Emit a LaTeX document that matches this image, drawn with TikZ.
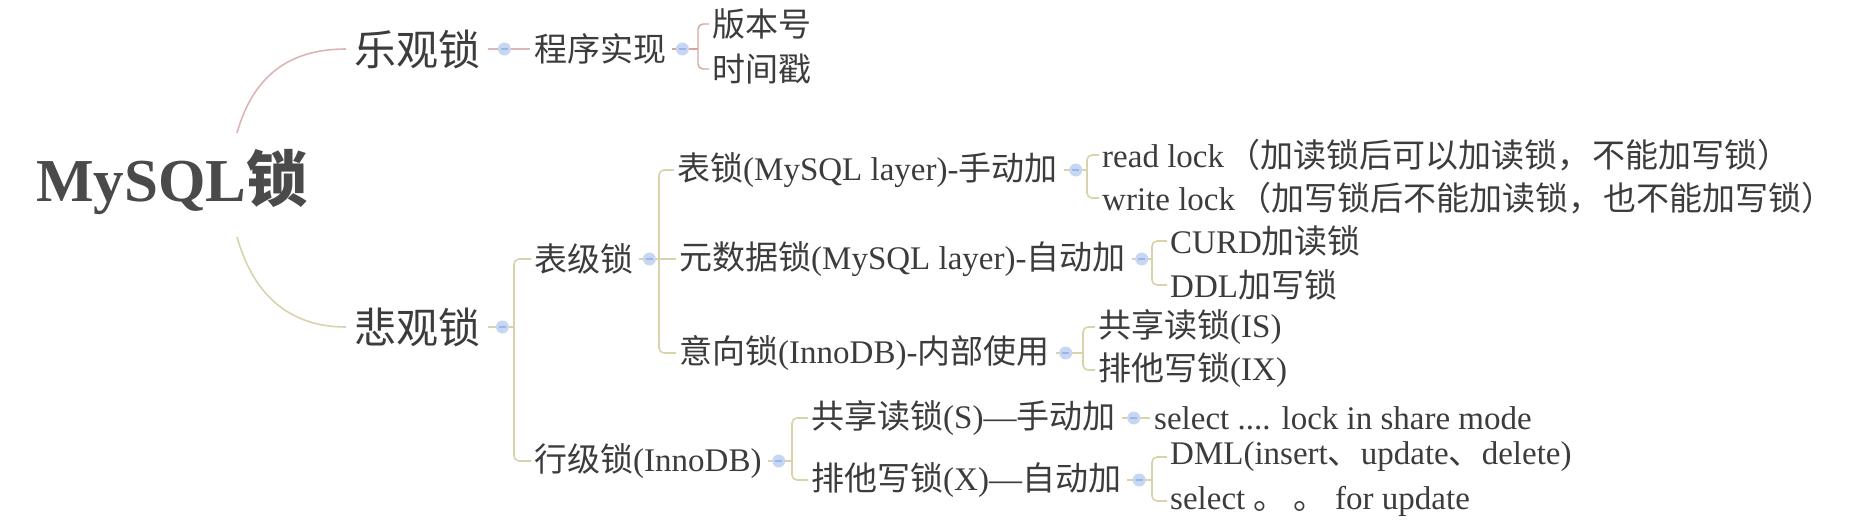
\documentclass[tikz,border=0pt]{standalone}
\usepackage{fontspec}
\setmainfont{Liberation Serif}
\newfontfamily\cjk{Noto Sans CJK SC}
\newcommand\zh[1]{{\cjk #1}}
\usetikzlibrary{calc}
\definecolor{txt}{HTML}{3C3C3C}
\definecolor{roottxt}{HTML}{4A4A4A}
\definecolor{pinkc}{HTML}{DDB5B5}
\definecolor{pinkb}{HTML}{D2A89E}
\definecolor{khakic}{HTML}{D8D3AA}
\definecolor{knobc}{HTML}{C6D7F3}
\definecolor{knobd}{HTML}{9DB5E0}
\begin{document}
\begin{tikzpicture}[x=1pt,y=-1pt,
  lbl/.style={anchor=west, inner sep=0pt, text=txt, font=\fontsize{33}{38}\selectfont},
  lvlone/.style={lbl, font=\fontsize{42}{48}\selectfont},
  rootlbl/.style={anchor=west, inner sep=0pt, text=roottxt, font=\fontsize{61}{66}\selectfont\bfseries},
  pinkline/.style={draw=pinkc, line width=1.6pt},
  pinkbr/.style={draw=pinkb, line width=1.4pt, rounded corners=5pt},
  khline/.style={draw=khakic, line width=1.6pt, rounded corners=5pt},
  knob/.style={circle, fill=knobc, minimum size=13pt, inner sep=0pt,
    path picture={\draw[knobd, line width=1.2pt]
      ([xshift=-3.5pt]path picture bounding box.center) -- ([xshift=3.5pt]path picture bounding box.center);}}
]
\useasboundingbox (0,0) rectangle (1862,522);
% ---------- text nodes ----------
\node[rootlbl] (root) at (36,182) {MySQL\zh{锁}};
\node[lvlone] (n1) at (354,49) {\zh{乐观锁}};
\node[lbl] (n11) at (534,49) {\zh{程序实现}};
\node[lbl] (n111) at (712,24) {\zh{版本号}};
\node[lbl] (n112) at (712,69) {\zh{时间戳}};
\node[lvlone] (n2) at (354,327) {\zh{悲观锁}};
\node[lbl] (n21) at (534,259) {\zh{表级锁}};
\node[lbl] (n211) at (677,170) {\zh{表锁}(MySQL layer)-\zh{手动加}};
\node[lbl] (n2111) at (1102,155) {read lock\hspace{3pt}\zh{（加读锁后可以加读锁，\hspace{2pt}不能加写锁）}};
\node[lbl] (n2112) at (1102,198) {write lock\hspace{3pt}\zh{（加写锁后不能加读锁，\hspace{2pt}也不能加写锁）}};
\node[lbl] (n212) at (679,259) {\zh{元数据锁}(MySQL layer)-\zh{自动加}};
\node[lbl] (n2121) at (1170,241) {CURD\zh{加读锁}};
\node[lbl] (n2122) at (1170,285) {DDL\zh{加写锁}};
\node[lbl] (n213) at (679,353) {\zh{意向锁}(InnoDB)-\zh{内部使用}};
\node[lbl] (n2131) at (1098,327) {\zh{共享读锁}(IS)};
\node[lbl] (n2132) at (1098,370) {\zh{排他写锁}(IX)};
\node[lbl] (n22) at (534,461) {\zh{行级锁}(InnoDB)};
\node[lbl] (n221) at (811,418) {\zh{共享读锁}(S)—\zh{手动加}};
\node[lbl] (n2211) at (1154,418) {select .... lock in share mode};
\node[lbl] (n222) at (811,480) {\zh{排他写锁}(X)—\zh{自动加}};
\node[lbl] (n2221) at (1170,457) {DML(insert\zh{、}update\zh{、}delete)};
\node[lbl] (n2222) at (1170,501) {select \zh{。 。} for update};
% ---------- bracket columns ----------
\coordinate (r1) at (237,133);
\coordinate (r2) at (237,237);
\coordinate (b11) at (698,0);
\coordinate (b2) at (514,0);
\coordinate (b21) at (659,0);
\coordinate (b211) at (1087,0);
\coordinate (b212) at (1152,0);
\coordinate (b213) at (1083,0);
\coordinate (b22) at (792,0);
\coordinate (b222) at (1152,0);
% ---------- root curves ----------
\draw[pinkline] (r1) .. controls (252,80) and (285,49) .. ($(n1.west)+(-8,0)$);
\draw[khline] (r2) .. controls (252,290) and (285,327) .. ($(n2.west)+(-8,0)$);
% ---------- optimistic branch ----------
\draw[pinkline] ($(n1.east)+(8,0)$) -- ($(n11.west)+(-4,0)$);
\draw[pinkbr] ($(n11.east)+(6,0)$) -- (n11.east -| b11);
\draw[pinkbr] ($(n111.west)+(-3,0)$) -- (n111.west -| b11) -- (n112.west -| b11) -- ($(n112.west)+(-3,0)$);
% ---------- pessimistic branch ----------
\draw[khline] ($(n2.east)+(8,0)$) -- (n2.east -| b2);
\draw[khline] ($(n21.west)+(-3,0)$) -- (n21.west -| b2) -- (n22.west -| b2) -- ($(n22.west)+(-3,0)$);
% table-level
\draw[khline] ($(n21.east)+(6,0)$) -- ($(n212.west)+(-3,0)$);
\draw[khline] ($(n211.west)+(-3,0)$) -- (n211.west -| b21) -- (n213.west -| b21) -- ($(n213.west)+(-3,0)$);
\draw[khline] ($(n211.east)+(6,0)$) -- (n211.east -| b211);
\draw[khline] ($(n2111.west)+(-3,0)$) -- (n2111.west -| b211) -- (n2112.west -| b211) -- ($(n2112.west)+(-3,0)$);
\draw[khline] ($(n212.east)+(6,0)$) -- (n212.east -| b212);
\draw[khline] ($(n2121.west)+(-3,0)$) -- (n2121.west -| b212) -- (n2122.west -| b212) -- ($(n2122.west)+(-3,0)$);
\draw[khline] ($(n213.east)+(6,0)$) -- (n213.east -| b213);
\draw[khline] ($(n2131.west)+(-3,0)$) -- (n2131.west -| b213) -- (n2132.west -| b213) -- ($(n2132.west)+(-3,0)$);
% row-level
\draw[khline] ($(n22.east)+(6,0)$) -- (n22.east -| b22);
\draw[khline] ($(n221.west)+(-3,0)$) -- (n221.west -| b22) -- (n222.west -| b22) -- ($(n222.west)+(-3,0)$);
\draw[khline] ($(n221.east)+(6,0)$) -- ($(n2211.west)+(-4,0)$);
\draw[khline] ($(n222.east)+(6,0)$) -- (n222.east -| b222);
\draw[khline] ($(n2221.west)+(-3,0)$) -- (n2221.west -| b222) -- (n2222.west -| b222) -- ($(n2222.west)+(-3,0)$);
% ---------- knobs ----------
\node[knob] (k1) at ($(n1.east)+(24,0)$) {};
\node[knob] (k11) at ($(n11.east)+(16,0)$) {};
\node[knob] (k2) at ($(n2.east)+(22,0)$) {};
\node[knob] (k21) at ($(n21.east)+(16,0)$) {};
\node[knob] (k211) at ($(n211.east)+(18,0)$) {};
\node[knob] (k212) at ($(n212.east)+(16,0)$) {};
\node[knob] (k213) at ($(n213.east)+(16,0)$) {};
\node[knob] (k22) at ($(n22.east)+(17,0)$) {};
\node[knob] (k221) at ($(n221.east)+(18,0)$) {};
\node[knob] (k222) at ($(n222.east)+(18,0)$) {};
\end{tikzpicture}
\end{document}
